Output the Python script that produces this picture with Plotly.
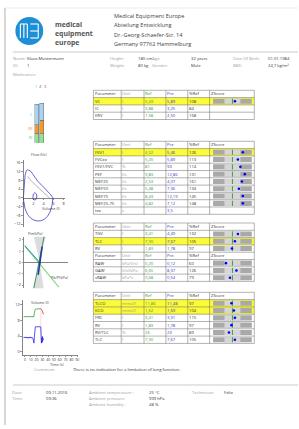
import plotly.graph_objects as go

W, H = 299, 429
FONT = "Open Sans"

# ------------------------------------------------------------------ data
company_lines = ["Medical Equipment Europe", "Abteilung Entwicklung",
                 "Dr.-Georg-Schaefer-Str. 14", "Germany 97762 Hammelburg"]
logo_words = ["medical", "equipment", "europe"]

info_labels = [["Name:", "ID:", "Medication:"], ["Height:", "Weight:"],
               ["Age:", "Gender:"], ["Date Of Birth:", "BMI:"]]
info_values = [["Klaus Mustermann", "1", ""], ["180 cm", "80 kg"],
               ["32 years", "Male"], ["01.01.1984", "24,7 kg/m²"]]

col_headers = ["Parameter", "Unit", "Ref", "Pre", "%Ref", "ZScore"]

t1_param = ["VC", "IC", "ERV"]
t1_unit = ["l", "l", "l"]
t1_ref = ["5,43", "3,88", "1,58"]
t1_pre = ["5,89", "3,25", "2,50"]
t1_pct = ["108", "84", "158"]
t1_z = [0.5, None, None]
t1_hl = [True, False, False]

t2_param = ["FEV1", "FVCex", "FEV1/FVC", "PEF", "MEF25", "MEF50", "MEF75", "MEF25-75", "tex"]
t2_unit = ["l", "l", "%", "l/s", "l/s", "l/s", "l/s", "l/s", "s"]
t2_ref = ["4,32", "5,20", "81", "9,83", "2,53", "5,48", "8,43", "4,82", ""]
t2_pre = ["5,46", "5,89", "93", "12,86", "4,07", "7,36", "12,19", "7,12", "3,5"]
t2_pct = ["126", "113", "114", "131", "161", "134", "145", "148", ""]
t2_z = [2.1, 1.1, 1.6, 2.5, 1.9, 1.3, 2.1, 2.1, None]
t2_hl = [True, False, False, False, False, False, False, False, False]

t3a_param = ["TGV", "TLC", "RV"]
t3a_unit = ["l", "l", "l"]
t3a_ref = ["3,41", "7,30", "1,83"]
t3a_pre = ["4,49", "7,67", "1,78"]
t3a_pct = ["132", "105", "97"]
t3a_z = [1.1, 0.5, -0.1]
t3a_hl = [False, True, False]

t3b_param = ["RAW", "GAW", "sRAW"]
t3b_unit = ["kPa/(l/s)", "(l/s)/kPa", "kPa*s"]
t3b_ref = ["0,20", "6,65", "0,68"]
t3b_pre = ["0,12", "8,37", "0,54"]
t3b_pct = ["60", "126", "79"]
t3b_z = [-1.3, 0.8, -0.5]
t3b_hl = [False, False, False]

t4_param = ["TLCO", "KCO", "FRC", "RV", "RV/TLC", "TLC"]
t4_unit = ["mmol/(", "mmol/(", "l", "l", "%", "l"]
t4_ref = ["11,86", "1,62", "3,41", "1,83", "26", "7,30"]
t4_pre = ["11,48", "1,69", "3,91", "1,78", "23", "7,67"]
t4_pct = ["97", "104", "115", "97", "89", "105"]
t4_z = [-0.2, 0.3, 0.5, -0.2, -0.7, 0.5]
t4_hl = [True, True, False, False, False, False]

bar_groups = ["Ref", "Pre"]
bar_part_names = ["RV", "ERV", "IC"]

# flow-volume loop (volume l, flow l/s)
fv_vol = [0.0, 0.15, 0.35, 0.6, 0.85, 1.1, 1.47, 1.9, 2.4, 2.95, 3.5, 4.0, 4.42, 4.9, 5.3, 5.65, 5.89,
          5.7, 5.3, 4.8, 4.2, 3.5, 2.8, 2.1, 1.4, 0.8, 0.35, 0.1, 0.0]
fv_flow = [0.0, 5.5, 10.5, 12.5, 12.86, 12.7, 12.19, 10.8, 9.0, 7.36, 6.2, 5.1, 4.07, 2.9, 1.8, 0.8, 0.0,
           -3.5, -6.5, -8.5, -9.8, -10.5, -10.6, -10.2, -9.2, -7.5, -5.0, -2.2, 0.0]
tidal_vol = [1.9, 2.0, 2.3, 2.6, 2.7, 2.5, 2.1, 1.9, 1.95]
tidal_flow = [0.0, 1.8, 2.4, 1.8, 0.5, -0.8, -1.0, -0.5, 0.0]
pred_vol = [0.9, 1.3, 2.6, 3.9, 5.2]
pred_flow = [9.83, 8.43, 5.48, 2.53, 0.0]

# pressure plot
wedge_top_x = [0.0, -0.3, 0.3, 0.0]
wedge_top_y = [0.0, 2.3, 2.3, 0.0]
wedge_bot_x = [0.0, -0.35, 0.2, 0.0]
wedge_bot_y = [0.0, -2.3, -2.3, 0.0]
steep_x = [-0.3, 0.22]
steep_y = [-2.3, 2.3]
loop_x = [-0.08, 0.12]
loop_y = [-1.1, 1.4]
diag_x = [-0.75, 0.97]
diag_y = [1.45, -2.2]
diag2_x = [-0.75, 0.05]
diag2_y = [1.5, -0.1]

# volume-time (DLCO manoeuvre)
vt_blue_t = [-2, -1, 0, 1, 2, 3, 4, 5, 6, 7, 8, 9, 10, 11, 12, 13, 14, 15, 15.6, 16.3, 17, 18, 20, 22, 24,
             26, 27.3, 28, 28.6, 29.2, 29.8, 30.4, 31, 31.6]
vt_blue_v = [3.6, 3.8, 3.55, 3.75, 3.5, 3.8, 3.5, 3.7, 3.45, 3.75, 3.55, 3.8, 3.5, 3.7, 3.45, 3.6, 3.3,
             2.6, 2.2, 3.8, 6.0, 6.4, 6.4, 6.45, 6.4, 6.4, 6.35, 3.5, 2.2, 3.6, 2.4, 3.9, 2.9, 3.4]
vt_green_t = [-2, 0, 2, 4, 6, 8, 10, 12, 14, 15.5, 16.3, 17, 18, 20, 22, 24, 26, 27.3]
vt_green_v = [9.0, 9.0, 8.95, 9.0, 9.0, 8.95, 9.0, 9.0, 8.95, 9.0, 10.0, 10.8, 10.9, 10.95, 11.0, 11.0, 11.05, 11.05]
vt_red_t = [27.3, 28.5, 29.5, 30.5, 31.3, 32]
vt_red_v = [11.05, 10.9, 10.6, 10.2, 9.9, 9.6]
vt_mark_t = [27.5, 27.5]
vt_mark_v = [2.2, 11.0]

comment_label = "Comment:"
comment_text = "There is no indication for a limitation of lung function."

footer_labels = [["Date:", "Time:"], ["Ambient temperature :", "Ambient pressure:", "Ambient humidity :"],
                 ["Technician:"]]
footer_values = [["09.11.2016", "09:36"], ["25 °C", "999 hPa", "48 %"], ["Felix"]]


def num(s):
    return float(s.replace(",", "."))


# ------------------------------------------------------------------ layout constants
COLS = [93, 121, 144, 166, 188, 210, 255]
RH = 7.3
ZC, ZIN, ZOUT, ZS = 233.0, 8.0, 19.5, 5.0
YELLOW = "#fbfb3a"
GREEN_T = "#3c9a3c"
BLUE_T = "#3535c8"
BAR_COLORS = ["#93e293", "#f39a2a", "#a6d4f2"]
BAR_LABEL_COLORS = ["#5cc05c", "#f08a10", "#7fb8e0"]
BAR_BASE_PX, BAR_TOP_PX, BAR_YMAX = 143.0, 99.5, 8.2

shapes = []
annotations = []


def txt(x, y, s, size=4.3, color="#333", anchor="left", bold=False):
    if s == "":
        return
    annotations.append(dict(x=x, y=y, xref="x", yref="y", text=("<b>%s</b>" % s) if bold else s,
                            showarrow=False, xanchor=anchor, yanchor="middle",
                            borderpad=0, borderwidth=0,
                            font=dict(size=size, color=color, family=FONT)))


def rect(x0, y0, x1, y1, fill, line=None, lw=0):
    shapes.append(dict(type="rect", xref="x", yref="y", x0=x0, y0=y0, x1=x1, y1=y1,
                       fillcolor=fill, line=dict(color=line or fill, width=lw), layer="below"))


def seg(x0, y0, x1, y1, color, lw=0.6):
    shapes.append(dict(type="line", xref="x", yref="y", x0=x0, y0=y0, x1=x1, y1=y1,
                       line=dict(color=color, width=lw), layer="below"))


fig = go.Figure()

# ------------------------------------------------------------------ page frame & header
seg(4, 8, 4, 425, "#9a9a9a", 0.8)
seg(4, 8, W, 8, "#dddddd", 0.6)
shapes.append(dict(type="circle", xref="x", yref="y", x0=14.5, y0=17, x1=42.5, y1=45,
                   fillcolor="#1d8fd6", line=dict(color="#1d8fd6", width=0), layer="below"))
for xv in [19.5, 23, 26.5]:
    seg(xv, 24, xv, 38, "white", 1.1)
seg(19.5, 24, 26.5, 24, "white", 1.1)
for yv in [24, 31, 38]:
    seg(29.5, yv, 37.5, yv, "white", 1.1)
seg(37.5, 24, 37.5, 38, "white", 1.1)
for i, w in enumerate(logo_words):
    txt(54, 24.5 + i * 8.8, w, size=6.9, color="#555", bold=True)
for i, s in enumerate(company_lines):
    txt(114, 16 + i * 9.4, s, size=5.6, color="#444")
seg(12, 52, W, 52, "#aaaaaa", 0.6)

info_label_x = [12, 110, 152.5, 234]
info_value_x = [26.5, 138, 191.5, 268.5]
info_row_y = [58.5, 65.8, 74]
for c in range(4):
    for r, lab in enumerate(info_labels[c]):
        txt(info_label_x[c], info_row_y[r], lab, size=4.2, color="#a0a0a0")
        txt(info_value_x[c], info_row_y[r], info_values[c][r], size=4.2, color="#333")

for s, xv, colr in zip(["1", "2", "3"], [35, 40, 45], ["#8fb0c8", "#3050d0", "#e05050"]):
    txt(xv, 86, s, size=4.2, color=colr, anchor="center")


# ------------------------------------------------------------------ tables
hdr_colors = ["#333", "#999", GREEN_T, BLUE_T, "#333", "#333"]
dot_x, dot_y = [], []


def draw_table(top, rows):
    n = len(rows)
    for i, row in enumerate(rows):
        y0 = top + i * RH
        y1 = y0 + RH
        yc = (y0 + y1) / 2
        if row == "header":
            for c, h in enumerate(col_headers):
                txt(COLS[c] + 1.3, yc, h, size=4.2, color=hdr_colors[c])
            continue
        p, u, rf, pr, pc, z, hl = row
        if hl:
            rect(COLS[0], y0, COLS[-1], y1, YELLOW)
        vals = [p, u, rf, pr, pc]
        colors = ["#333", "#999", GREEN_T, BLUE_T, "#333"]
        for c in range(5):
            txt(COLS[c] + 1.3, yc, vals[c], size=4.2, color=colors[c])
        if z is not None:
            rect(ZC - ZOUT, y0 + 1.1, ZC + ZOUT, y1 - 1.1, "#a9a9a9")
            rect(ZC - ZIN, y0 + 1.1, ZC + ZIN, y1 - 1.1, "#d6d6d6")
            seg(ZC, y0 + 1.1, ZC, y1 - 1.1, "#2e9a2e", 0.9)
            dot_x.append(ZC + z * ZS)
            dot_y.append(yc)
    for i in range(n + 1):
        seg(COLS[0], top + i * RH, COLS[-1], top + i * RH, "#666", 0.5)
    for xv in COLS:
        seg(xv, top, xv, top + n * RH, "#666", 0.5)


def rows_of(param, unit, ref, pre, pct, z, hl):
    return list(zip(param, unit, ref, pre, pct, z, hl))


draw_table(90.3, ["header"] + rows_of(t1_param, t1_unit, t1_ref, t1_pre, t1_pct, t1_z, t1_hl))
draw_table(141.3, ["header"] + rows_of(t2_param, t2_unit, t2_ref, t2_pre, t2_pct, t2_z, t2_hl))
draw_table(223.0, ["header"] + rows_of(t3a_param, t3a_unit, t3a_ref, t3a_pre, t3a_pct, t3a_z, t3a_hl)
           + ["header"] + rows_of(t3b_param, t3b_unit, t3b_ref, t3b_pre, t3b_pct, t3b_z, t3b_hl))
draw_table(292.3, ["header"] + rows_of(t4_param, t4_unit, t4_ref, t4_pre, t4_pct, t4_z, t4_hl))

fig.add_trace(go.Scatter(x=dot_x, y=dot_y, mode="markers", xaxis="x", yaxis="y",
                         marker=dict(color="#0000ff", size=2.6, line=dict(width=0)), hoverinfo="skip"))

# ------------------------------------------------------------------ chart A: lung volume bars
ic_vals = [num(t1_ref[1]), num(t1_pre[1])]
erv_vals = [num(t1_ref[2]), num(t1_pre[2])]
rv_vals = [num(t3a_ref[2]), num(t3a_pre[2])]
parts = [rv_vals, erv_vals, ic_vals]
for vals, colr in zip(parts, BAR_COLORS):
    fig.add_trace(go.Bar(x=bar_groups, y=vals, width=0.8, xaxis="x2", yaxis="y2",
                         marker=dict(color=colr, line=dict(color="#667", width=0.5))))
# tiny side labels at the middle of each reference segment
px_per_l = (BAR_BASE_PX - BAR_TOP_PX) / BAR_YMAX
cum = 0.0
for name, vals, colr in zip(bar_part_names, parts, BAR_LABEL_COLORS):
    mid = cum + vals[0] / 2
    cum += vals[0]
    txt(32, BAR_BASE_PX - mid * px_per_l, name, size=2.6, color=colr, anchor="right")

# ------------------------------------------------------------------ chart B: flow-volume
fig.add_trace(go.Scatter(x=pred_vol, y=pred_flow, mode="lines", xaxis="x3", yaxis="y3",
                         line=dict(color="#a0a0a0", width=0.8)))
fig.add_trace(go.Scatter(x=fv_vol, y=fv_flow, mode="lines", xaxis="x3", yaxis="y3",
                         line=dict(color="#4040c8", width=0.8)))
fig.add_trace(go.Scatter(x=tidal_vol, y=tidal_flow, mode="lines", xaxis="x3", yaxis="y3",
                         line=dict(color="#4040c8", width=0.8)))

# ------------------------------------------------------------------ chart C: pressure
for wx, wy in [(wedge_top_x, wedge_top_y), (wedge_bot_x, wedge_bot_y)]:
    fig.add_trace(go.Scatter(x=wx, y=wy, mode="lines", fill="toself", fillcolor="#dcdcdc",
                             line=dict(width=0, color="#dcdcdc"), xaxis="x4", yaxis="y4"))
fig.add_trace(go.Scatter(x=diag_x, y=diag_y, mode="lines", xaxis="x4", yaxis="y4",
                         line=dict(color="#74d474", width=1.1)))
fig.add_trace(go.Scatter(x=diag2_x, y=diag2_y, mode="lines", xaxis="x4", yaxis="y4",
                         line=dict(color="#2f8fb4", width=1.0)))
fig.add_trace(go.Scatter(x=steep_x, y=steep_y, mode="lines", xaxis="x4", yaxis="y4",
                         line=dict(color="#2e8b57", width=0.9)))
fig.add_trace(go.Scatter(x=loop_x, y=loop_y, mode="lines", xaxis="x4", yaxis="y4",
                         line=dict(color="#1f3fa0", width=1.6)))

# ------------------------------------------------------------------ chart D: volume-time
fig.add_trace(go.Scatter(x=vt_mark_t, y=vt_mark_v, mode="lines", xaxis="x5", yaxis="y5",
                         line=dict(color="#f3b8b8", width=0.5)))
fig.add_trace(go.Scatter(x=vt_green_t, y=vt_green_v, mode="lines", xaxis="x5", yaxis="y5",
                         line=dict(color="#3a9a3a", width=0.8)))
fig.add_trace(go.Scatter(x=vt_red_t, y=vt_red_v, mode="lines", xaxis="x5", yaxis="y5",
                         line=dict(color="#e03030", width=0.8)))
fig.add_trace(go.Scatter(x=vt_blue_t, y=vt_blue_v, mode="lines", xaxis="x5", yaxis="y5",
                         line=dict(color="#2828ee", width=0.8)))

# axis titles
txt(30, 154, "Flow (l/s)", size=3.8, color="#444")
txt(41, 208.6, "Volume (l)", size=3.8, color="#444")
txt(27, 233.5, "Pm(kPa)", size=3.8, color="#444")
txt(50, 277, "Pb/P(kPa)", size=3.8, color="#444")
txt(30, 302, "Volume (l)", size=3.8, color="#444")
txt(49, 364.5, "Time (s)", size=3.8, color="#444")

# comment and footer
txt(33, 369, comment_label, size=4.3, color="#a0a0a0")
txt(72.5, 369, comment_text, size=4.3, color="#333")
seg(12, 385, W, 385, "#aaaaaa", 0.6)
foot_lx = [11.5, 89, 192.5]
foot_vx = [45, 149, 224]
foot_y = [392.5, 398.3, 404]
for c in range(3):
    for r, lab in enumerate(footer_labels[c]):
        txt(foot_lx[c], foot_y[r], lab, size=4.2, color="#a0a0a0")
        txt(foot_vx[c], foot_y[r], footer_values[c][r], size=4.2, color="#333")


# ------------------------------------------------------------------ axes
def fx(px):
    return px / W


def fy(py):
    return 1 - py / H


tick_font = dict(size=3.8, color="#333", family=FONT)


def chart_axis(**kw):
    base = dict(showgrid=False, zeroline=False, showline=True, linecolor="#333", linewidth=0.6,
                ticks="outside", ticklen=1.5, tickwidth=0.5, tickcolor="#333", tickfont=tick_font,
                tickangle=0, fixedrange=True)
    base.update(kw)
    return base


fig.update_layout(
    width=W, height=H, margin=dict(l=0, r=0, t=0, b=0),
    paper_bgcolor="white", plot_bgcolor="rgba(0,0,0,0)",
    showlegend=False, barmode="stack", bargap=0, hovermode=False,
    font=dict(family=FONT),
    shapes=shapes, annotations=annotations,
    xaxis=dict(range=[0, W], domain=[0, 1], visible=False, fixedrange=True),
    yaxis=dict(range=[H, 0], domain=[0, 1], visible=False, fixedrange=True),
    xaxis2=dict(domain=[fx(33.5), fx(43.5)], range=[-0.5, 1.5], visible=False, anchor="y2", fixedrange=True),
    yaxis2=dict(domain=[fy(BAR_BASE_PX), fy(BAR_TOP_PX)], range=[0, BAR_YMAX], visible=False,
                anchor="x2", fixedrange=True),
    xaxis3=chart_axis(domain=[fx(22.5), fx(64.5)], range=[0, 8.3], anchor="free", position=fy(197.9),
                      tickvals=[0, 2, 4, 6, 8]),
    yaxis3=chart_axis(domain=[fy(227.3), fy(159.7)], range=[-13.5, 17.5], anchor="x3",
                      tickvals=[-12, -8, -4, 0, 4, 8, 12, 16]),
    xaxis4=chart_axis(domain=[fx(23), fx(67)], range=[-0.8, 1.4], anchor="free", position=fy(262.5),
                      showticklabels=False, ticks=""),
    yaxis4=chart_axis(domain=[fy(288.4), fy(236.6)], range=[-2.3, 2.3], anchor="x4",
                      tickvals=[-2, -1, 0, 1, 2]),
    xaxis5=chart_axis(domain=[fx(21.7), fx(77.9)], range=[-4, 92], anchor="y5",
                      tickvals=[0, 10, 20, 30, 40, 50, 60, 70, 80, 90], tickfont=dict(size=3.4, color="#333")),
    yaxis5=chart_axis(domain=[fy(355), fy(300.3)], range=[-0.85, 13.2], anchor="x5",
                      tickvals=[0, 4, 8, 12]),
)

fig.write_html("out.html", config={"displayModeBar": False, "staticPlot": True},
               post_script="document.body.style.margin='0';document.body.style.overflow='hidden';")
